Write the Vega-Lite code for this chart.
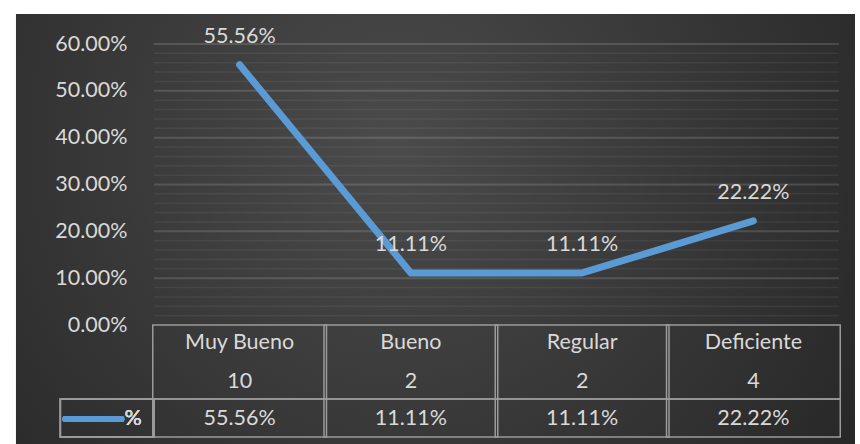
{
  "$schema": "https://vega.github.io/schema/vega-lite/v6.json",
  "width": 695,
  "height": 281,
  "autosize": {"type": "none"},
  "padding": {"left": 149, "top": 44, "right": 16, "bottom": 119},
  "background": "white",
  "config": {
    "view": {"stroke": null},
    "font": "Lato",
    "text": {"font": "Lato", "fontSize": 21.5, "color": "#d9d9d9"}
  },
  "datasets": {
    "main": [
      {"i": 0, "cat": "Muy Bueno", "n": 10, "pct": 0.5556},
      {"i": 1, "cat": "Bueno", "n": 2, "pct": 0.1111},
      {"i": 2, "cat": "Regular", "n": 2, "pct": 0.1111},
      {"i": 3, "cat": "Deficiente", "n": 4, "pct": 0.2222}
    ],
    "major": [{"v": 0.1}, {"v": 0.2}, {"v": 0.3}, {"v": 0.4}, {"v": 0.5}, {"v": 0.6}],
    "minor": [
      {"v": 0.02}, {"v": 0.04}, {"v": 0.06}, {"v": 0.08},
      {"v": 0.12}, {"v": 0.14}, {"v": 0.16}, {"v": 0.18},
      {"v": 0.22}, {"v": 0.24}, {"v": 0.26}, {"v": 0.28},
      {"v": 0.32}, {"v": 0.34}, {"v": 0.36}, {"v": 0.38},
      {"v": 0.42}, {"v": 0.44}, {"v": 0.46}, {"v": 0.48},
      {"v": 0.52}, {"v": 0.54}, {"v": 0.56}, {"v": 0.58}
    ]
  },
  "data": {"name": "main"},
  "layer": [
    {
      "mark": {
        "type": "rect",
        "color": {
          "gradient": "radial",
          "x1": 0.45, "y1": 0.4, "r1": 0,
          "x2": 0.45, "y2": 0.4, "r2": 0.72,
          "stops": [
            {"offset": 0, "color": "#4b4b4b"},
            {"offset": 1, "color": "#242424"}
          ]
        }
      },
      "encoding": {
        "x": {"datum": -1.3059, "type": "quantitative", "scale": {"domain": [-0.5, 3.5], "nice": false, "zero": false}, "axis": null},
        "x2": {"datum": 3.5919},
        "y": {
          "datum": 0.6641, "type": "quantitative",
          "scale": {"domain": [0, 0.6], "nice": false, "zero": false},
          "axis": {
            "values": [0, 0.1, 0.2, 0.3, 0.4, 0.5, 0.6],
            "format": ".2%",
            "title": null,
            "domain": false,
            "ticks": false,
            "grid": false,
            "labelColor": "#d9d9d9",
            "labelFont": "Lato",
            "labelFontSize": 21.5,
            "labelPadding": 22,
            "labelOverlap": false,
            "labelFlush": false,
            "labelBound": false,
            "zindex": 1
          }
        },
        "y2": {"datum": -0.2541}
      }
    },
    {
      "data": {"name": "minor"},
      "mark": {"type": "rule", "color": "#ffffff", "opacity": 0.06, "strokeWidth": 1.5},
      "encoding": {
        "y": {"field": "v", "type": "quantitative"},
        "x": {"datum": -0.5, "type": "quantitative"},
        "x2": {"datum": 3.5}
      }
    },
    {
      "data": {"name": "major"},
      "mark": {"type": "rule", "color": "#ffffff", "opacity": 0.14, "strokeWidth": 2},
      "encoding": {
        "y": {"field": "v", "type": "quantitative"},
        "x": {"datum": -0.5, "type": "quantitative"},
        "x2": {"datum": 3.5}
      }
    },
    {
      "mark": {"type": "line", "color": "#5b9bd5", "strokeWidth": 7, "strokeCap": "round", "strokeJoin": "round"},
      "encoding": {
        "x": {"field": "i", "type": "quantitative"},
        "y": {"field": "pct", "type": "quantitative"}
      }
    },
    {
      "mark": {"type": "text", "dy": -28, "baseline": "middle"},
      "encoding": {
        "x": {"field": "i", "type": "quantitative"},
        "y": {"field": "pct", "type": "quantitative"},
        "text": {"field": "pct", "type": "quantitative", "format": ".2%"}
      }
    },
    {
      "mark": {"type": "bar", "width": 173.75, "fill": "transparent", "stroke": "#9a9a9a", "strokeWidth": 1.5},
      "encoding": {
        "x": {"field": "i", "type": "quantitative"},
        "y": {"datum": 0, "type": "quantitative"},
        "y2": {"datum": -0.158}
      }
    },
    {
      "mark": {"type": "bar", "width": 173.75, "fill": "transparent", "stroke": "#9a9a9a", "strokeWidth": 1.5},
      "encoding": {
        "x": {"field": "i", "type": "quantitative"},
        "y": {"datum": -0.158, "type": "quantitative"},
        "y2": {"datum": -0.2392}
      }
    },
    {
      "mark": {"type": "rect", "fill": "transparent", "stroke": "#9a9a9a", "strokeWidth": 1.5},
      "encoding": {
        "x": {"datum": -1.0469, "type": "quantitative"},
        "x2": {"datum": -0.5},
        "y": {"datum": -0.158, "type": "quantitative"},
        "y2": {"datum": -0.2392}
      }
    },
    {
      "mark": {"type": "rule", "color": "#5b9bd5", "strokeWidth": 6, "strokeCap": "round"},
      "encoding": {
        "x": {"datum": -1.0181, "type": "quantitative"},
        "x2": {"datum": -0.69},
        "y": {"datum": -0.2007, "type": "quantitative"}
      }
    },
    {
      "mark": {"type": "text", "text": "%", "align": "left", "baseline": "middle"},
      "encoding": {
        "x": {"datum": -0.672, "type": "quantitative"},
        "y": {"datum": -0.2007, "type": "quantitative"}
      }
    },
    {
      "mark": {"type": "text", "baseline": "middle"},
      "encoding": {
        "x": {"field": "i", "type": "quantitative"},
        "y": {"datum": -0.0384, "type": "quantitative"},
        "text": {"field": "cat", "type": "nominal"}
      }
    },
    {
      "mark": {"type": "text", "baseline": "middle"},
      "encoding": {
        "x": {"field": "i", "type": "quantitative"},
        "y": {"datum": -0.1217, "type": "quantitative"},
        "text": {"field": "n", "type": "quantitative"}
      }
    },
    {
      "mark": {"type": "text", "baseline": "middle"},
      "encoding": {
        "x": {"field": "i", "type": "quantitative"},
        "y": {"datum": -0.2007, "type": "quantitative"},
        "text": {"field": "pct", "type": "quantitative", "format": ".2%"}
      }
    }
  ]
}
